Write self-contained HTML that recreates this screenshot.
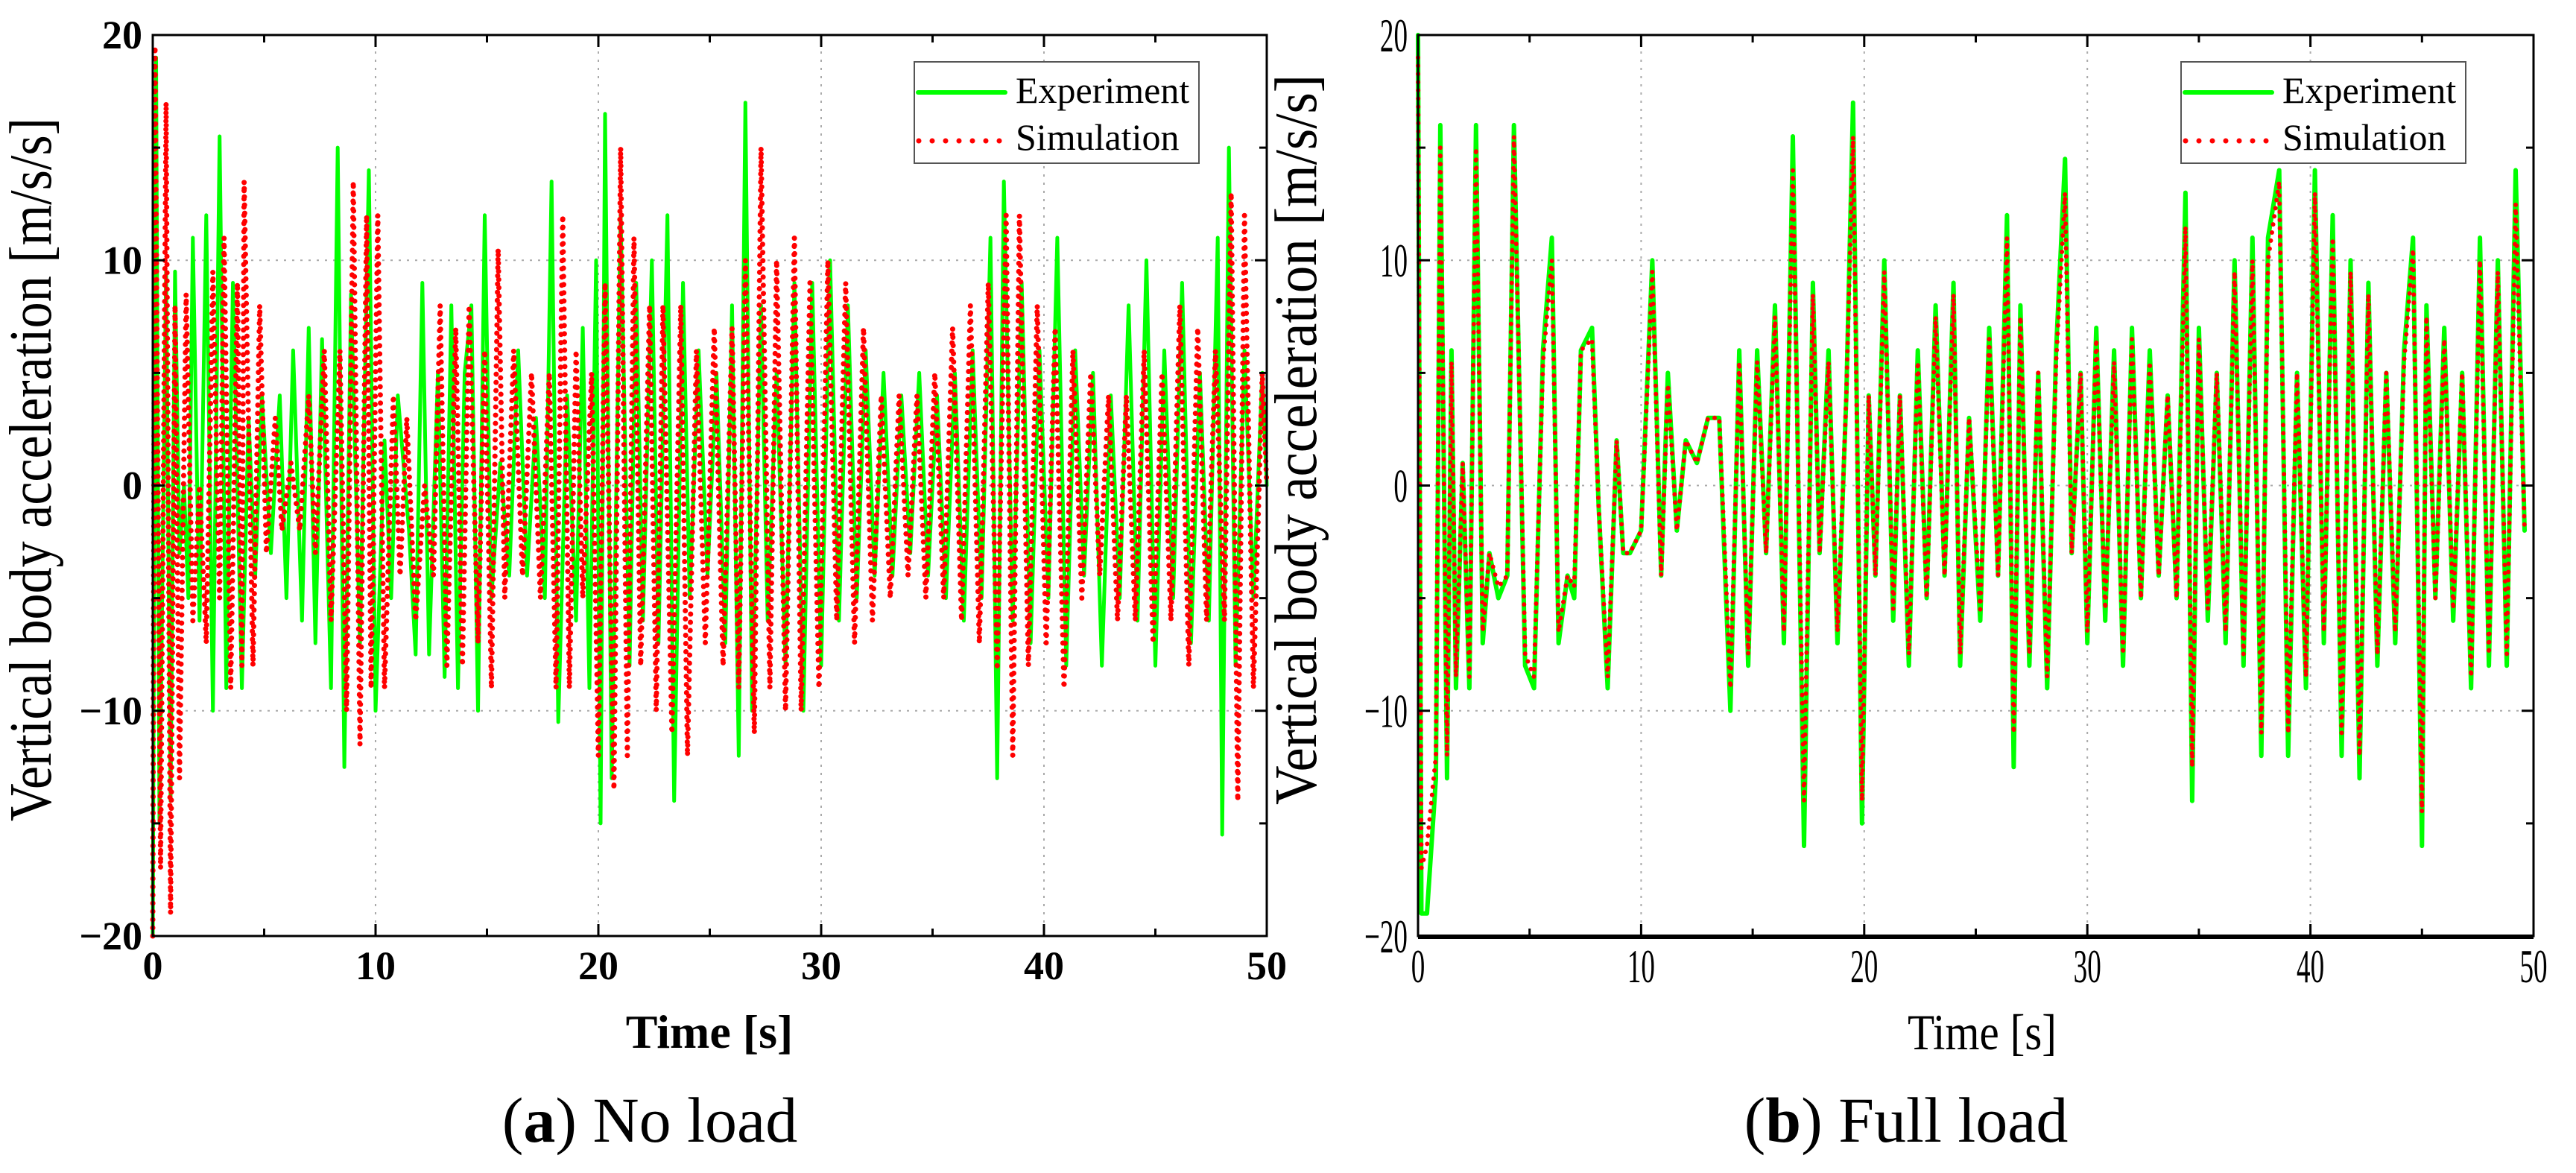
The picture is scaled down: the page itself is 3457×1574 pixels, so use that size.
<!DOCTYPE html>
<html><head><meta charset="utf-8"><style>
html,body{margin:0;padding:0;background:#fff;}
svg{display:block;}
text{font-family:"Liberation Serif","DejaVu Serif",serif;fill:#000;}
</style></head><body>
<svg id="fig" width="3457" height="1574" viewBox="0 0 3457 1574" xmlns="http://www.w3.org/2000/svg"></svg>
<script>
// ---- Panel (a) No load data ----
const aExpT = [0,0.15,0.3,0.6,0.8,1.0,1.2,1.4,1.6,1.8,2.1,2.4,2.7,3.0,3.3,3.6,4.0,4.3,4.6,4.9,5.3,5.7,6.0,6.3,6.7,7.0,7.3,7.6,8.0,8.3,8.6,8.9,9.3,9.7,10.0,10.4,10.7,11.0,11.5,11.8,12.1,12.4,12.8,13.1,13.4,13.7,14.0,14.3,14.6,14.9,15.2,15.6,16.0,16.4,16.8,17.2,17.6,17.9,18.2,18.6,19.0,19.3,19.6,19.9,20.1,20.3,20.6,21.0,21.4,21.7,22.0,22.4,22.7,23.1,23.4,23.8,24.1,24.5,24.9,25.3,25.7,26.0,26.3,26.6,26.9,27.3,27.6,28.0,28.4,28.8,29.2,29.6,30.0,30.4,30.8,31.2,31.6,32.0,32.4,32.8,33.2,33.6,34.0,34.4,34.8,35.2,35.6,36.0,36.4,36.8,37.2,37.6,37.9,38.2,38.6,39.0,39.4,39.8,40.2,40.6,41.0,41.4,41.8,42.2,42.6,43.0,43.4,43.8,44.2,44.6,45.0,45.4,45.8,46.2,46.6,47.0,47.4,47.8,48.0,48.3,48.6,49.0,49.4,49.8,50];
const aExpV = [-20,19,-15,9.5,-14,9.5,-3,0,-5,11,-6,12,-10,15.5,-9,9,-9,3,-4,4,-3,4,-5,6,-6,7,-7,6.5,-9,15,-12.5,8.5,-7,14,-10,2,-5,4,-2,-7.5,9,-7.5,5,-8.5,8,-9,5,8,-10,12,-5,1,-4,6,-4,3,-5,13.5,-10.5,4,-6,7,-9,10,-15,16.5,-13,12,-8,9,-6,10,-7,12,-14,9,-5,6,-4,5,-7,8,-12,17,-10,8,-6,5,-8,9,-10,9,-8,10,-6,8,-5,6,-4,5,-4,4,-3,5,-4,4,-5,5,-6,6,-5,11,-13,13.5,-6,9,-7,6,-5,11,-8,6,-4,5,-8,4,-5,8,-6,10,-8,6,-5,9,-7,5,-6,11,-15.5,15,-8,6,-5,5,0];
const aSimT = [0,0.1,0.35,0.6,0.8,1.0,1.2,1.5,1.8,2.1,2.4,2.7,3.0,3.2,3.5,3.8,4.0,4.1,4.5,4.8,5.1,5.5,5.8,6.2,6.6,7.0,7.3,7.7,8.0,8.4,8.7,9.0,9.3,9.6,9.8,10.1,10.4,10.8,11.1,11.4,11.8,12.2,12.6,12.9,13.2,13.6,13.9,14.2,14.6,14.9,15.2,15.5,15.8,16.2,16.6,17.0,17.4,17.8,18.1,18.4,18.7,19.0,19.3,19.7,20.0,20.3,20.7,21.0,21.3,21.6,21.9,22.3,22.6,22.9,23.3,23.7,24.0,24.4,24.8,25.2,25.6,26.0,26.3,26.6,27.0,27.3,27.7,28.0,28.4,28.8,29.1,29.5,29.9,30.3,30.7,31.1,31.5,31.9,32.3,32.7,33.1,33.5,33.9,34.3,34.7,35.1,35.5,35.9,36.3,36.7,37.1,37.5,37.9,38.3,38.6,38.9,39.3,39.7,40.1,40.5,40.9,41.3,41.7,42.1,42.5,42.9,43.3,43.7,44.1,44.5,44.9,45.3,45.7,46.1,46.5,46.9,47.3,47.7,48.1,48.4,48.7,49.0,49.4,49.8,50];
const aSimV = [-20,19.5,-17,17,-19,8,-13,8.5,-6,0,-7,9.5,-5,11,-9,9,-8,13.5,-8,8,-3,3,-2,1,-2,4,-3,6,-6,6,-10,13.5,-11.5,12,-9,12,-9,4,-4,3,-6,0,-4,8,-8,7,-8,8,-7,6,-9,10.5,-5,6,-4,5,-5,5,-9,12,-9,6,-5,5,-12,9,-13.5,15,-12,11,-8,8,-10,8,-11,8,-12,6,-7,7,-8,7,-9,10,-11,15,-9,10,-10,11,-10,9,-9,10,-6,9,-7,7,-6,4,-5,4,-4,4,-5,5,-5,7,-6,8,-7,9,-8,12,-12,12,-8,8,-7,7,-9,6,-5,5,-4,4,-6,4,-6,6,-7,5,-6,8,-8,7,-6,6,-6,13,-14,12,-9,5,0];
// ---- Panel (b) Full load data ----
const bT = [0,0.15,0.4,0.8,1.0,1.3,1.5,1.7,2.0,2.3,2.6,2.9,3.2,3.6,4.0,4.3,4.8,5.2,5.6,6.0,6.3,6.7,7.0,7.3,7.8,8.1,8.5,8.9,9.2,9.5,10.0,10.5,10.9,11.2,11.6,12.0,12.5,13.0,13.5,14.0,14.4,14.8,15.2,15.6,16.0,16.4,16.8,17.3,17.7,18.0,18.4,18.8,19.2,19.5,19.9,20.2,20.5,20.9,21.3,21.6,22.0,22.4,22.8,23.2,23.6,24.0,24.3,24.7,25.2,25.6,26.0,26.4,26.7,27.0,27.4,27.8,28.2,28.6,29.0,29.3,29.7,30.0,30.4,30.8,31.2,31.6,32.0,32.4,32.8,33.2,33.6,34.0,34.4,34.7,35.0,35.4,35.8,36.2,36.6,37.0,37.4,37.8,38.1,38.6,39.0,39.4,39.8,40.2,40.6,41.0,41.4,41.8,42.2,42.6,43.0,43.4,43.8,44.2,44.6,45.0,45.2,45.6,46.0,46.4,46.8,47.2,47.6,48.0,48.4,48.8,49.2,49.6,50];
const bExpV = [20,-19,-19,-13,16,-13,6,-9,1,-9,16,-7,-3,-5,-4,16,-8,-9,6,11,-7,-4,-5,6,7,-1,-9,2,-3,-3,-2,10,-4,5,-2,2,1,3,3,-10,6,-8,6,-3,8,-7,15.5,-16,9,-3,6,-7,4,17,-15,4,-4,10,-6,4,-8,6,-5,8,-4,9,-8,3,-6,7,-4,12,-12.5,8,-8,5,-9,6,14.5,-3,5,-7,7,-6,6,-8,7,-5,6,-4,4,-5,13,-14,7,-6,5,-7,10,-8,11,-12,11,14,-12,5,-9,14,-7,12,-12,10,-13,9,-8,5,-7,6,11,-16,8,-5,7,-6,5,-9,11,-8,10,-8,14,-2];
const bSimV = [19,-17,-16,-12,15,-12,5.5,-8.5,1,-8.5,15,-6.5,-3,-4.5,-4,15.5,-7.5,-8.5,5.5,10,-6.5,-4,-4.5,6,6.5,-1,-8.5,2,-3,-3,-2,9.5,-4,4.5,-2,2,1,3,3,-9,5.5,-7.5,5.5,-3,7.5,-6.5,14,-14,8.5,-3,5.5,-6.5,4,15.5,-14,4,-4,9.5,-5.5,4,-7.5,5.5,-5,7.5,-4,8.5,-7.5,3,-5.5,6.5,-4,11,-11,7.5,-7.5,5,-8.5,5.5,13,-3,5,-6.5,6.5,-5.5,5.5,-7.5,6.5,-5,5.5,-4,4,-5,11.5,-12.5,6.5,-5.5,5,-6.5,9.5,-7.5,10,-11,10,13.5,-11,5,-8.5,13,-6.5,11,-11,9.5,-12,8.5,-7.5,5,-6.5,5.5,10.5,-14.5,7.5,-5,6.5,-5.5,5,-8.5,10,-7.5,9.5,-7.5,12.5,-2];
const xTicks = [0,10,20,30,40,50];
const yTicks = [-20,-10,0,10,20];

const NS = "http://www.w3.org/2000/svg";
const svg = document.getElementById('fig');
function mk(tag, attrs, parent){
  const e = document.createElementNS(NS, tag);
  for (const k in attrs) e.setAttribute(k, attrs[k]);
  (parent||svg).appendChild(e);
  return e;
}
const Y0 = 47, Y1 = 1256;

function panel(id, X0, X1, series, boldTicks, tickCond){
  const g = mk('g', {});
  
  
  const sx = t => X0 + (t - 0) / 50 * (X1 - X0);
  const sy = v => Y1 - (v + 20) / 40 * (Y1 - Y0);
  xTicks.slice(1, -1).forEach(t => {
    const l = mk('line', {x1: sx(t), x2: sx(t), y1: Y0, y2: Y1, stroke: '#aaa', 'stroke-width': 2, 'stroke-dasharray': '3 8'}, g);
    
    
  });
  yTicks.slice(1, -1).forEach(v => {
    const l = mk('line', {x1: X0, x2: X1, y1: sy(v), y2: sy(v), stroke: '#aaa', 'stroke-width': 2, 'stroke-dasharray': '3 8'}, g);
    
    
  });
  series.forEach(s => {
    const d = s.t.map((t, i) => (i ? 'L' : 'M') + sx(t).toFixed(1) + ' ' + sy(s.v[i]).toFixed(1)).join(' ');
    const p = mk('path', {d: d, fill: 'none', stroke: s.color, 'stroke-width': s.w, 'stroke-linejoin': 'round', 'stroke-linecap': 'round'}, g);
    if (s.dash) p.setAttribute('stroke-dasharray', s.dash);
    
    
  });
  const fr = mk('rect', {x: X0, y: Y0, width: X1 - X0, height: Y1 - Y0, fill: 'none', stroke: '#000', 'stroke-width': 3}, g);
  
  
  if (tickCond) mk('line', {x1: X0, x2: X1, y1: Y1 + 1, y2: Y1 + 1, stroke: '#000', 'stroke-width': 6}, g);
  for (let t = 0; t <= 50; t += 5) {
    const L = t % 10 === 0 ? 16 : 10;
    mk('line', {x1: sx(t), x2: sx(t), y1: Y1, y2: Y1 - L, stroke: '#000', 'stroke-width': 3}, g);
    mk('line', {x1: sx(t), x2: sx(t), y1: Y0, y2: Y0 + L, stroke: '#000', 'stroke-width': 3}, g);
  }
  for (let v = -20; v <= 20; v += 5) {
    const L = v % 10 === 0 ? 16 : 10;
    mk('line', {x1: X0, x2: X0 + L, y1: sy(v), y2: sy(v), stroke: '#000', 'stroke-width': 3}, g);
    mk('line', {x1: X1, x2: X1 - L, y1: sy(v), y2: sy(v), stroke: '#000', 'stroke-width': 3}, g);
  }
  const fs = tickCond ? 64 : 54;
  xTicks.forEach(t => {
    const tx = mk('text', {x: sx(t), y: tickCond ? 1318 : 1314, 'font-size': fs, 'text-anchor': 'middle', 'font-weight': boldTicks ? 'bold' : 'normal'}, g);
    if (tickCond) tx.setAttribute('transform', `translate(${sx(t)} 0) scale(0.58 1) translate(${-sx(t)} 0)`);
    tx.textContent = t;
    
    
  });
  yTicks.forEach(v => {
    const xx = X0 - 14;
    const tx = mk('text', {x: xx, y: sy(v) + (tickCond ? 22 : 18), 'font-size': fs, 'text-anchor': 'end', 'font-weight': boldTicks ? 'bold' : 'normal'}, g);
    if (tickCond) tx.setAttribute('transform', `translate(${xx} 0) scale(0.58 1) translate(${-xx} 0)`);
    tx.textContent = v < 0 ? '\u2212' + (-v) : v;
    
    
  });
  const LX = X1 - 473, LY = 83;
  const lg = mk('g', {}, g);
  
  
  mk('rect', {x: LX, y: LY, width: 382, height: 136, fill: '#fff', stroke: '#555', 'stroke-width': 2}, lg);
  mk('line', {x1: LX + 5, x2: LX + 122, y1: LY + 41, y2: LY + 41, stroke: '#00ff00', 'stroke-width': 6, 'stroke-linecap': 'round'}, lg);
  mk('line', {x1: LX + 6, x2: LX + 122, y1: LY + 106, y2: LY + 106, stroke: '#ff0000', 'stroke-width': 7, 'stroke-linecap': 'round', 'stroke-dasharray': '0 18'}, lg);
  const e1 = mk('text', {x: LX + 136, y: LY + 55, 'font-size': 50}, lg);
  e1.textContent = 'Experiment';
  
  
  const e2 = mk('text', {x: LX + 136, y: LY + 118, 'font-size': 50}, lg);
  e2.textContent = 'Simulation';
  
  
}

panel('no-load', 205, 1700, [
  {t: aExpT, v: aExpV, color: '#00ff00', w: 5, name: 'experiment-line-a'},
  {t: aSimT, v: aSimV, color: '#ff0000', w: 7, dash: '0 11', name: 'simulation-line-a'}
], true, false);
panel('full-load', 1903, 3400, [
  {t: bT, v: bExpV, color: '#00ff00', w: 6, name: 'experiment-line-b'},
  {t: bT, v: bSimV, color: '#ff0000', w: 6, dash: '0 11', name: 'simulation-line-b'}
], false, true);

function txt(attrs, s, name){
  const t = mk('text', attrs);
  t.textContent = s;
  
  
  return t;
}
txt({x: 0, y: 0, 'font-size': 80, 'text-anchor': 'middle', textLength: 944, lengthAdjust: 'spacingAndGlyphs', transform: 'translate(68 630) rotate(-90)'}, 'Vertical body acceleration [m/s/s]', 'y-axis-title-a');
txt({x: 0, y: 0, 'font-size': 80, 'text-anchor': 'middle', textLength: 980, lengthAdjust: 'spacingAndGlyphs', transform: 'translate(1766 590) rotate(-90)'}, 'Vertical body acceleration [m/s/s]', 'y-axis-title-b');
txt({x: 952, y: 1406, 'font-size': 64, 'font-weight': 'bold', 'text-anchor': 'middle'}, 'Time [s]', 'x-axis-title-a');
txt({x: 2660, y: 1408, 'font-size': 68, 'text-anchor': 'middle', textLength: 200, lengthAdjust: 'spacingAndGlyphs'}, 'Time [s]', 'x-axis-title-b');
const c1 = txt({x: 872, y: 1532, 'font-size': 86, 'text-anchor': 'middle'}, '', 'caption-a');
c1.innerHTML = '(<tspan font-weight="bold">a</tspan>) No load';
const c2 = txt({x: 2558, y: 1532, 'font-size': 86, 'text-anchor': 'middle'}, '', 'caption-b');
c2.innerHTML = '(<tspan font-weight="bold">b</tspan>) Full load';
</script>
</body></html>
